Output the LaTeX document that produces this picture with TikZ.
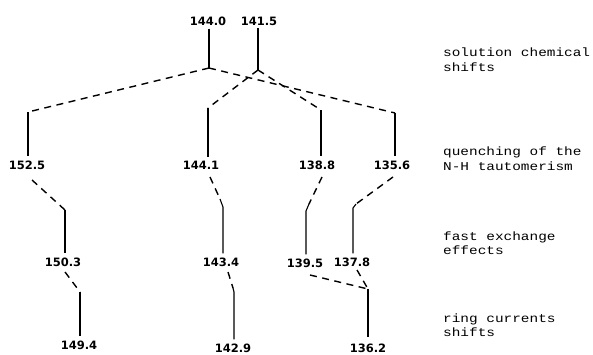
\documentclass[tikz,border=0pt]{standalone}
\usepackage{fontspec}
\setmainfont{DejaVu Sans}
\newfontfamily\numfont{DejaVu Sans}
\newfontfamily\typefont[FakeStretch=1.2]{Liberation Mono}
\begin{document}
\begin{tikzpicture}[x=1pt,y=-1pt,
  num/.style={font=\numfont\bfseries\fontsize{11.5}{13}\selectfont, inner sep=0pt},
  lab/.style={font=\typefont\fontsize{12}{14.5}\selectfont, anchor=west, align=left, inner sep=0pt},
  solidline/.style={line width=1.1pt},
  dashline/.style={line width=1.4pt, dash pattern=on 7pt off 5.5pt}]
\useasboundingbox (0,0) rectangle (593,355);

% top level
\node[num] (a0) at (208,21) {144.0};
\node[num] (b0) at (259,21) {141.5};
\coordinate (ja) at (209,68);
\coordinate (jb) at (258,70);
\draw[solidline, shorten <=3pt] (a0.south -| ja) -- (ja);
\draw[solidline, shorten <=3pt] (b0.south -| jb) -- (jb);

% first split
\coordinate (t1) at (28,112);
\coordinate (t2) at (208,108);
\coordinate (t3) at (321,110);
\coordinate (t4) at (395,113);
\draw[dashline] (ja) -- (t1);
\draw[dashline] (ja) -- (t4);
\draw[dashline] (jb) -- (t2);
\draw[dashline] (jb) -- (t3);

\node[num] (a1) at (27,165) {152.5};
\node[num] (b1) at (201,165) {144.1};
\node[num] (c1) at (317,165) {138.8};
\node[num] (d1) at (392,165) {135.6};
\draw[solidline, shorten >=4pt] (t1) -- (t1 |- a1.north);
\draw[solidline, shorten >=4pt] (t2) -- (t2 |- b1.north);
\draw[solidline, shorten >=4pt] (t3) -- (t3 |- c1.north);
\draw[solidline, shorten >=4pt] (t4) -- (t4 |- d1.north);

% second level
\coordinate (a1s) at (32,180);
\coordinate (a2k) at (65,210);
\coordinate (b1s) at (210,177);
\coordinate (b2k) at (220,199);
\coordinate (b2m) at (223,207);
\coordinate (c1s) at (322,177);
\coordinate (c2k) at (309,204);
\coordinate (c2m) at (306,211);
\coordinate (d1s) at (393,177);
\coordinate (d2k) at (356,204);
\coordinate (d2m) at (353,208);

\node[num] (a2) at (63,262) {150.3};
\node[num] (b2) at (221,262) {143.4};
\node[num] (c2) at (305,263) {139.5};
\node[num] (d2) at (352,262) {137.8};

\draw[dashline] (a1s) -- (a2k);
\draw[solidline, shorten >=4pt] (a2k) -- (a2k |- a2.north);
\draw[dashline] (b1s) -- (b2k);
\draw[solidline, shorten >=4pt] (b2k) -- (b2m) -- (b2m |- b2.north);
\draw[dashline] (c1s) -- (c2k);
\draw[solidline, shorten >=4pt] (c2k) -- (c2m) -- (c2m |- c2.north);
\draw[dashline] (d1s) -- (d2k);
\draw[solidline, shorten >=4pt] (d2k) -- (d2m) -- (d2m |- d2.north);

% third level
\coordinate (a2s) at (65,272);
\coordinate (a3k) at (80,292);
\coordinate (b2s) at (228,272);
\coordinate (b3k) at (233,288);
\coordinate (b3m) at (234,292);
\coordinate (c2s) at (310,275);
\coordinate (d2s) at (357,270);
\coordinate (c3k) at (368,289);

\node[num] (a3) at (79,345) {149.4};
\node[num] (b3) at (233,348) {142.9};
\node[num] (c3) at (368,348) {136.2};

\draw[dashline] (a2s) -- (a3k);
\draw[solidline, shorten >=4pt] (a3k) -- (a3k |- a3.north);
\draw[dashline] (b2s) -- (b3k);
\draw[solidline, shorten >=4pt] (b3k) -- (b3m) -- (b3m |- b3.north);
\draw[dashline] (c2s) -- (c3k);
\draw[dashline] (d2s) -- (c3k);
\draw[solidline, shorten >=6pt] (c3k) -- (c3k |- c3.north);

% right-hand labels
\node[lab] (l1) at (443,59.5) {solution chemical\\shifts};
\node[lab] (l2) at (443,158.5) {quenching of the\\N-H tautomerism};
\node[lab] (l3) at (443,243) {fast exchange\\effects};
\node[lab] (l4) at (443,325) {ring currents\\shifts};
\end{tikzpicture}
\end{document}
